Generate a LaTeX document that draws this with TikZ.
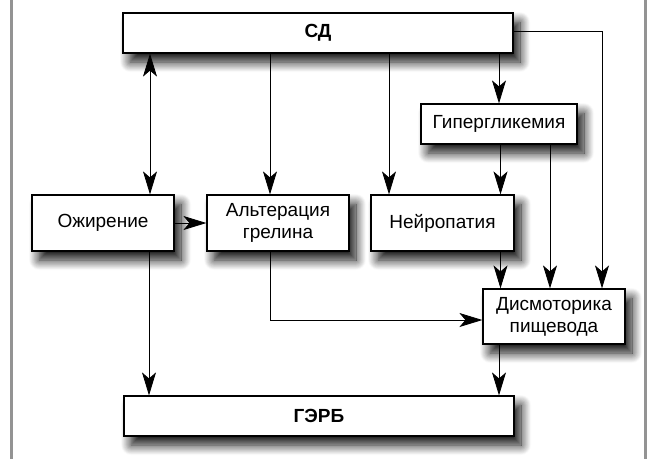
\documentclass[tikz,border=0pt]{standalone}
\usepackage{fontspec}
\setmainfont{Liberation Sans}
\usetikzlibrary{arrows.meta,shadows.blur}
\colorlet{framegray}{gray!85}
\tikzset{
  blk/.style={draw,fill=white,line width=1.2pt,align=center,inner sep=2pt,
    font=\fontsize{19}{22}\selectfont,
    blur shadow={shadow xshift=7pt,shadow yshift=-9pt,shadow blur radius=10pt,
      shadow blur steps=12,shadow opacity=95}},
  tip/.tip={Stealth[length=23pt,width=14pt,inset=6pt]},
  arr/.style={-tip,line width=0.8pt},
}
\begin{document}
\begin{tikzpicture}[x=1pt,y=-1pt]
\useasboundingbox (0,0) rectangle (647,459);
% ---- frame ----
\draw[framegray,line width=3pt] (11.5,0) -- (11.5,459);
\draw[framegray,line width=3pt] (645.5,0) -- (645.5,459);
% ---- boxes ----
\node[blk,minimum width=390pt,minimum height=40pt,font=\fontsize{19}{22}\selectfont\bfseries] (sd) at (318,33) {СД};
\node[blk,minimum width=156pt,minimum height=40pt] (hyper) at (499,124) {Гипергликемия};
\node[blk,minimum width=142pt,minimum height=56pt] (obes) at (103,223) {Ожирение};
\node[blk,minimum width=142pt,minimum height=56pt] (ghrel) at (278,223) {Альтерация\\грелина};
\node[blk,minimum width=143pt,minimum height=56pt] (neuro) at (442.5,223) {Нейропатия};
\node[blk,minimum width=142pt,minimum height=55pt] (dysm) at (554,316.5) {Дисмоторика\\пищевода};
\node[blk,minimum width=390pt,minimum height=40pt,font=\fontsize{19}{22}\selectfont\bfseries] (gerd) at (319,416) {ГЭРБ};
% ---- arrows from СД ----
\draw[arr,tip-tip] (150,0 |- sd.south) -- (150,0 |- obes.north);
\draw[arr] (270,0 |- sd.south) -- (270,0 |- ghrel.north);
\draw[arr] (389,0 |- sd.south) -- (389,0 |- neuro.north);
\draw[arr] (499,0 |- sd.south) -- (hyper.north);
\draw[arr] (sd.east |- 0,31) -| (602,0 |- dysm.north);
% ---- Гипергликемия ----
\draw[arr] (500.5,0 |- hyper.south) -- (500.5,0 |- neuro.north);
\draw[arr] (550,0 |- hyper.south) -- (550,0 |- dysm.north);
% ---- to Дисмоторика ----
\draw[arr] (500.5,0 |- neuro.south) -- (500.5,0 |- dysm.north);
\draw[arr] (270,0 |- ghrel.south) |- (dysm.west |- 0,320);
\draw[arr] (obes.east) -- (ghrel.west);
% ---- to ГЭРБ ----
\draw[arr] (149,0 |- obes.south) -- (149,0 |- gerd.north);
\draw[arr] (499,0 |- dysm.south) -- (499,0 |- gerd.north);
\end{tikzpicture}
\end{document}
